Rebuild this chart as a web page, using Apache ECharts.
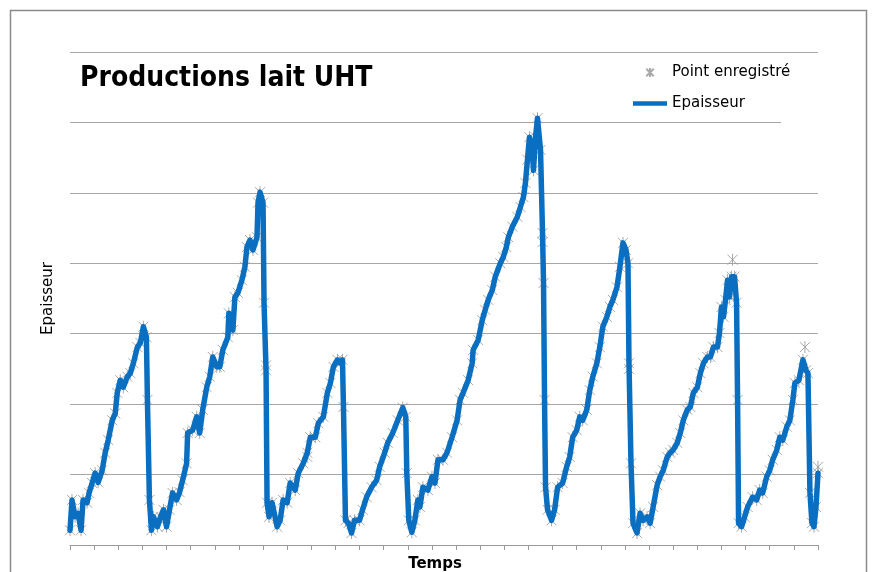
<!DOCTYPE html>
<html>
<head>
<meta charset="utf-8">
<script src="https://cdn.jsdelivr.net/npm/echarts@6/dist/echarts.min.js"></script>
<style>html,body{margin:0;padding:0;background:#fff;}#c{width:874px;height:572px;}</style>
</head>
<body>
<div id="c"></div>
<script>
// Time (arbitrary units) and thickness values
const times = [0,2,5,8,11,13,17,19,22,25,28,32,35,38,42,45,47,50,53,57,60,63,67,70,73,76,77,79,81,83,87,90,93,96,99,102,106,109,112,116,117,122,126,129,132,136,139,142,146,149,152,157,158,162,164,167,171,174,176,179,182,186,187,189,192,193,195,196,198,201,206,209,212,216,219,224,227,232,236,239,244,247,252,256,259,262,266,269,271,272,274,277,280,283,288,291,295,300,305,308,313,316,321,326,331,334,335,337,340,343,346,348,351,356,360,363,366,371,375,380,385,388,391,396,400,401,406,410,413,416,420,423,428,431,434,436,440,445,448,451,453,455,457,460,461,463,465,468,470,471,472,473,475,479,482,485,490,494,497,500,504,507,510,514,517,520,524,527,530,534,537,540,544,547,550,553,555,556,558,560,564,567,570,574,577,580,584,587,590,594,597,600,604,607,610,614,617,620,624,627,630,634,637,640,644,646,648,650,652,654,656,658,661,663,664,665,668,671,674,679,683,686,689,693,696,699,703,706,709,713,716,719,721,725,729,732,734,736,738,740,742,744];
const thickness = [2.1,6.4,4.0,4.5,2.1,6.4,6.0,7.4,8.8,10.2,8.9,10.6,13.1,14.9,17.7,18.7,21.6,23.4,22.4,23.9,24.4,25.8,28.1,28.7,31.0,29.5,20.6,6.4,2.1,4.0,2.6,4.0,5.0,2.6,5.0,7.4,6.4,7.5,9.2,11.6,15.9,16.3,18.2,15.9,19.2,22.4,23.9,26.7,25.3,25.3,27.7,29.5,32.9,30.5,35.2,35.8,37.6,39.5,42.3,43.3,41.9,43.7,48.6,50.1,48.6,34.4,24.8,6.0,4.0,6.0,2.6,3.5,6.4,6.0,8.8,7.8,10.2,11.6,13.1,15.3,15.3,17.3,18.2,21.6,23.0,25.3,26.3,25.8,26.3,19.6,3.5,3.1,1.7,3.5,3.5,5.0,6.8,8.2,9.2,11.1,13.1,14.5,15.9,17.7,19.5,18.2,10.2,3.5,1.8,3.5,6.4,5.4,8.2,7.8,9.7,8.8,12.1,12.1,13.1,15.3,17.7,20.6,21.6,23.4,25.8,27.7,29.1,31.9,33.4,34.8,36.2,38.1,40.0,40.9,42.3,43.7,45.2,46.6,48.0,49.4,51.4,54.7,57.9,55.7,53.2,57.9,60.6,56.1,44.3,37.2,20.6,8.2,5.0,3.5,5.0,8.2,8.8,11.1,12.5,15.3,16.3,18.2,17.7,19.2,22.0,23.9,25.8,28.1,31.0,32.4,33.8,34.8,36.6,39.5,42.9,41.9,40.0,25.8,11.6,3.1,1.7,4.5,3.5,4.0,3.1,5.4,8.5,9.7,10.6,12.5,13.1,13.5,14.5,15.9,17.7,19.2,19.6,21.6,22.4,24.4,25.8,26.7,26.7,28.1,28.1,30.1,33.8,32.4,34.8,37.6,35.2,38.1,38.1,34.4,20.6,3.1,2.6,4.0,5.4,6.8,6.4,7.8,7.4,9.7,10.6,12.1,13.5,15.3,14.9,16.8,17.7,20.6,23.0,23.4,26.3,24.8,24.4,7.4,3.1,2.6,5.4,10.2];
// Recorded points that sit off the thick line
const extraTimes = [659, 731, 744, 195, 236, 470, 556];
const extraValues = [40.5, 28.1, 11.1, 25.5, 12.5, 43.0, 25.0];

const titleText = 'Productions lait UHT';
const lineName = 'Epaisseur';
const pointName = 'Point enregistré';
const xName = 'Temps';
const yName = 'Epaisseur';

const lineData = times.map((t, i) => [t, thickness[i]]);
const pointData = lineData.concat(extraTimes.map((t, i) => [t, extraValues[i]]));

const TITLE_FONT = '"DejaVu Sans Condensed","Liberation Sans Narrow","DejaVu Sans",sans-serif';
const FONT = '"DejaVu Sans",sans-serif';
const asterisk = 'path://M0,0L10,10M10,0L0,10M5,-1L5,11';
const BLUE = '#0a6fc1';

const chart = echarts.init(document.getElementById('c'), null, {renderer: 'canvas'});
chart.setOption({
  animation: false,
  backgroundColor: '#fff',
  title: {
    text: titleText, left: 75, top: 60,
    textStyle: {fontFamily: TITLE_FONT, fontSize: 28, fontWeight: 'bold', color: '#000'}
  },
  legend: {
    orient: 'vertical', left: 628, top: 60,
    itemWidth: 34, itemHeight: 9, itemGap: 16,
    data: [
      {name: pointName},
      {name: lineName, icon: 'path://M0,0L40,0L40,5.5L0,5.5Z'}
    ],
    textStyle: {fontFamily: FONT, fontSize: 15, color: '#000'},
    z: 20
  },
  grid: {left: 70, top: 52, width: 748, height: 493, containLabel: false, outerBoundsMode: 'none'},
  xAxis: {
    type: 'value', min: 0, max: 744, interval: 24,
    name: xName, nameLocation: 'middle', nameGap: 12,
    nameTextStyle: {fontFamily: FONT, fontSize: 15, fontWeight: 'bold', color: '#000', padding: [0, 18, 0, 0], verticalAlign: 'top'},
    axisLine: {show: true, lineStyle: {color: '#9a9a9a', width: 1}},
    axisTick: {show: true, length: 5, lineStyle: {color: '#9a9a9a'}},
    axisLabel: {show: false},
    splitLine: {show: false}
  },
  yAxis: {
    type: 'value', min: 0, max: 70, interval: 10,
    name: yName, nameLocation: 'middle', nameGap: 14,
    nameTextStyle: {fontFamily: FONT, fontSize: 15, color: '#000'},
    axisLine: {show: false}, axisTick: {show: false}, axisLabel: {show: false},
    splitLine: {show: true, lineStyle: {color: '#a6a6a6', width: 1}}
  },
  graphic: [
    {type: 'rect', z: 100, shape: {x: 10.5, y: 10.5, width: 856, height: 620}, style: {fill: 'none', stroke: '#8a8a8a', lineWidth: 1.5}, silent: true},
    {type: 'rect', z: 5, shape: {x: 781, y: 118, width: 40, height: 8}, style: {fill: '#fff'}, silent: true}
  ],
  series: [
    {
      name: pointName, type: 'scatter', data: pointData,
      symbol: asterisk, symbolSize: 12, symbolKeepAspect: true,
      itemStyle: {color: 'rgba(0,0,0,0)', borderColor: '#939393', borderWidth: 1},
      z: 2
    },
    {
      name: lineName, type: 'line', data: lineData,
      symbol: 'none', showSymbol: false,
      lineStyle: {color: BLUE, width: 5.5, join: 'round', cap: 'round'},
      itemStyle: {color: BLUE},
      z: 3
    }
  ]
});
</script>
</body>
</html>
